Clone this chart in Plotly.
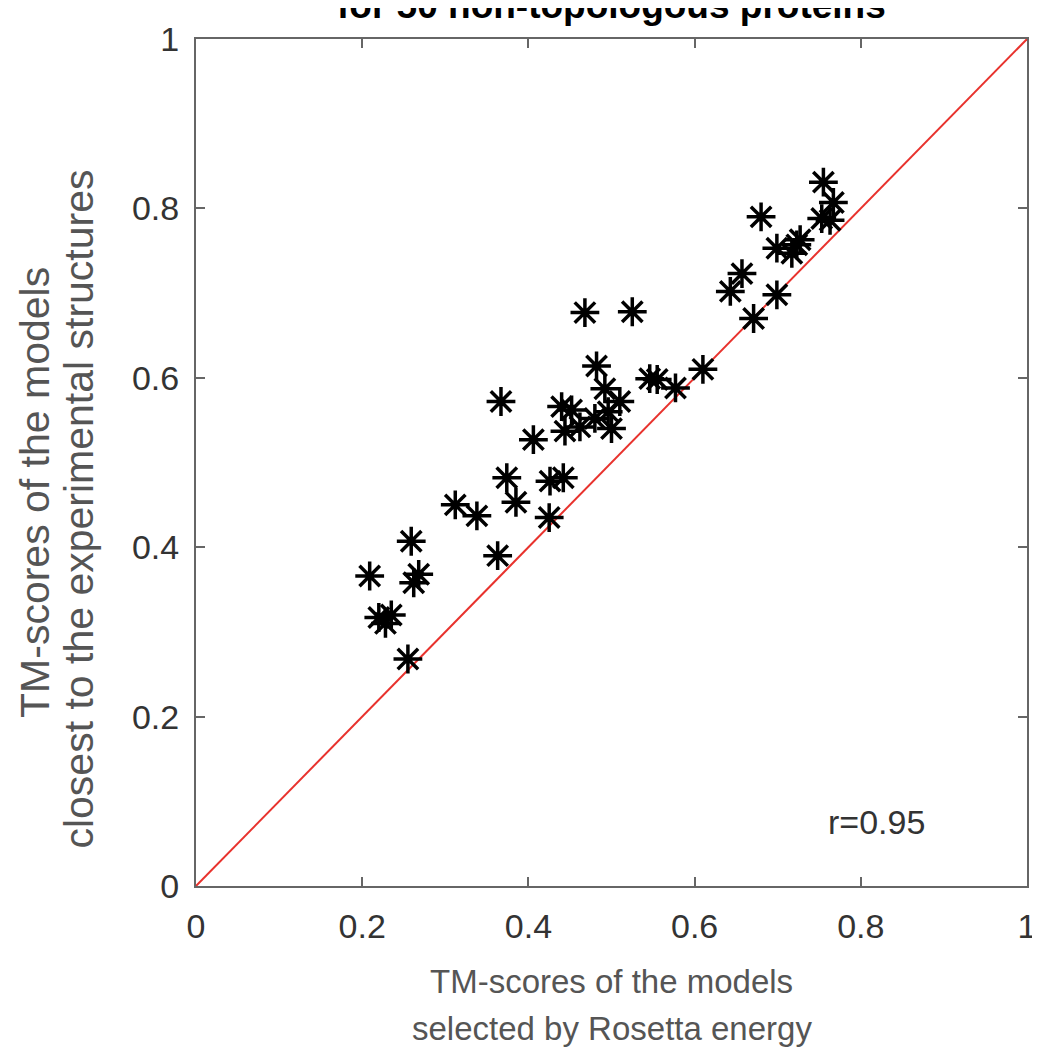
import plotly.graph_objects as go

# TM-scores: x = selected by Rosetta energy, y = closest to experimental structure
rosetta_tm = [0.209, 0.259, 0.268, 0.262, 0.220, 0.235, 0.228, 0.255,
              0.312, 0.338, 0.363, 0.367, 0.374, 0.385, 0.406, 0.425, 0.426, 0.442,
              0.440, 0.452, 0.444, 0.462, 0.480, 0.496, 0.500, 0.492, 0.510, 0.482,
              0.468, 0.525,
              0.546, 0.555, 0.577, 0.610,
              0.671, 0.699, 0.643, 0.657, 0.699, 0.717, 0.723, 0.727, 0.680,
              0.753, 0.763, 0.767, 0.755]
closest_tm = [0.366, 0.407, 0.368, 0.358, 0.317, 0.320, 0.310, 0.268,
              0.450, 0.437, 0.390, 0.572, 0.482, 0.453, 0.527, 0.435, 0.478, 0.482,
              0.566, 0.562, 0.537, 0.542, 0.552, 0.560, 0.540, 0.587, 0.572, 0.614,
              0.677, 0.678,
              0.599, 0.598, 0.588, 0.610,
              0.670, 0.698, 0.702, 0.723, 0.753, 0.747, 0.757, 0.763, 0.790,
              0.788, 0.786, 0.807, 0.831]
diag = [0, 1]
tick_vals = [0, 0.2, 0.4, 0.6, 0.8, 1]
tick_text = ["0", "0.2", "0.4", "0.6", "0.8", "1"]

FONT = "Liberation Sans, Arial, Helvetica, sans-serif"

fig = go.Figure()
fig.add_trace(go.Scatter(x=diag, y=diag, mode="lines",
                         line=dict(color="#e8322d", width=2), hoverinfo="skip"))
fig.add_trace(go.Scatter(x=rosetta_tm, y=closest_tm, mode="markers",
                         marker=dict(symbol="asterisk-open", size=24,
                                     color="black", line=dict(color="black", width=3.5))))

axis_common = dict(range=[0, 1], tickvals=tick_vals, ticktext=tick_text,
                   showgrid=False, zeroline=False, showline=True, linecolor="#666666",
                   linewidth=2, mirror="ticks", ticks="inside", ticklen=9, tickwidth=2,
                   tickcolor="#666666", tickfont=dict(family=FONT, size=34, color="#333333"))

# page body has an 8px default margin, compensate so the plot box sits at
# x 196..1031, y 30..886 in the screenshot
fig.update_layout(
    width=1040, height=1057,
    margin=dict(l=188, r=17, t=22, b=179),
    paper_bgcolor="white", plot_bgcolor="white",
    showlegend=False,
    xaxis=dict(**axis_common, ticklabelstandoff=9),
    yaxis=dict(**axis_common, ticklabelstandoff=8),
)

annos = [
    dict(text="<b>for 50 non-topologous proteins</b>", x=0.5, y=(886 + 4) / 856,
         xref="paper", yref="paper", xanchor="center", yanchor="middle",
         font=dict(family=FONT, size=37, color="black")),
    dict(text="TM-scores of the models", x=0.5, y=-(983 - 886) / 856,
         xref="paper", yref="paper", xanchor="center", yanchor="middle",
         font=dict(family=FONT, size=33, color="#555555")),
    dict(text="selected by Rosetta energy", x=0.5, y=-(1030 - 886) / 856,
         xref="paper", yref="paper", xanchor="center", yanchor="middle",
         font=dict(family=FONT, size=33, color="#555555")),
    dict(text="TM-scores of the models", x=(34 - 196) / 835, y=(886 - 488) / 856,
         xref="paper", yref="paper", xanchor="center", yanchor="middle", textangle=-90,
         font=dict(family=FONT, size=41, color="#555555")),
    dict(text="closest to the experimental structures", x=(78 - 196) / 835, y=(886 - 505) / 856,
         xref="paper", yref="paper", xanchor="center", yanchor="middle", textangle=-90,
         font=dict(family=FONT, size=41, color="#555555")),
    dict(text="r=0.95", x=0.819, y=0.075, xref="x", yref="y",
         xanchor="center", yanchor="middle",
         font=dict(family=FONT, size=34, color="#333333")),
]
for a in annos:
    a.setdefault("showarrow", False)
    fig.add_annotation(**a)

fig.write_html("out.html")
